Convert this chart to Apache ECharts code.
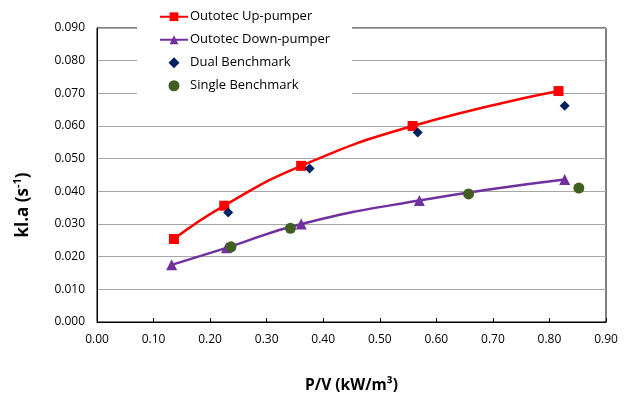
<!DOCTYPE html>
<html><head><meta charset="utf-8">
<script src="https://cdn.jsdelivr.net/npm/echarts@6/dist/echarts.min.js"></script>
<style>html,body{margin:0;padding:0;background:#fff}#c{width:627px;height:394px}</style>
</head><body><div id="c"></div>
<script>
const upPumperX = [0.136, 0.225, 0.361, 0.558, 0.816];
const upPumperY = [0.0254, 0.0356, 0.0478, 0.0600, 0.0707];
const downPumperX = [0.132, 0.229, 0.361, 0.570, 0.827];
const downPumperY = [0.0175, 0.0227, 0.0300, 0.0372, 0.0436];
const dualX = [0.232, 0.376, 0.567, 0.827];
const dualY = [0.0335, 0.0470, 0.0580, 0.0662];
const singleX = [0.237, 0.342, 0.657, 0.852];
const singleY = [0.0230, 0.0287, 0.0392, 0.0410];
const seriesNames = ['Outotec Up-pumper','Outotec Down-pumper','Dual Benchmark','Single Benchmark'];
const zip = (a,b) => a.map((v,i)=>[v,b[i]]);
const font = '"Open Sans", "Liberation Sans", sans-serif';
const chart = echarts.init(document.getElementById('c'));
chart.setOption({
  animation:false,
  textStyle:{fontFamily:font},
  grid:{left:97,right:21,top:28,bottom:72,show:true,borderColor:'#000',borderWidth:1,backgroundColor:'transparent',
        containLabel:false,outerBoundsMode:'none'},
  legend:{
    orient:'vertical', left:137, top:3, backgroundColor:'#fff', padding:[5,22,6,22],
    itemGap:5.5, itemWidth:28, itemHeight:11,
    textStyle:{fontFamily:font,fontSize:13,color:'#000',lineHeight:17.5,padding:[0,0,0,-3]},
    data:[
      {name:seriesNames[0]},
      {name:seriesNames[1]},
      {name:seriesNames[2],icon:'path://M5,0L10,5L5,10L0,5Z'},
      {name:seriesNames[3]}
    ]
  },
  graphic:[{
    type:'text', x:23, y:205, rotation:Math.PI/2,
    style:{text:'{b|kl.a (s}{sup|-1}{b|)}',align:'center',verticalAlign:'middle',
      rich:{b:{fontFamily:font,fontSize:17,fontWeight:'bold',fill:'#000'},
            sup:{fontFamily:font,fontSize:11,fontWeight:'bold',fill:'#000',verticalAlign:'bottom',padding:[0,0,10,0]}}}
  }],
  xAxis:{type:'value',min:0,max:0.9,interval:0.1,
    name:'P/V (kW/m³)',nameLocation:'middle',nameGap:56,
    nameTextStyle:{fontFamily:font,fontSize:15.5,fontWeight:'bold',color:'#000'},
    axisLine:{show:true,lineStyle:{color:'#000'}},
    axisTick:{show:true,inside:true,length:4,lineStyle:{color:'#000'}},
    axisLabel:{formatter:v=>v.toFixed(2),color:'#000',fontSize:12,margin:12,fontFamily:font},
    splitLine:{show:false}},
  yAxis:{type:'value',min:0,max:0.09,interval:0.01,
    axisLine:{show:true,lineStyle:{color:'#000'}},
    axisTick:{show:false},
    axisLabel:{formatter:v=>v.toFixed(3),color:'#000',fontSize:12,margin:12,fontFamily:font},
    splitLine:{show:true,lineStyle:{color:'#a6a6a6',width:1}}},
  series:[
    {name:seriesNames[0],type:'line',smooth:0.5,data:zip(upPumperX,upPumperY),symbol:'rect',symbolSize:10,
     lineStyle:{color:'#ff0000',width:2.5},itemStyle:{color:'#ff0000'},z:3},
    {name:seriesNames[1],type:'line',smooth:0.5,data:zip(downPumperX,downPumperY),symbol:'triangle',symbolSize:11,
     lineStyle:{color:'#7030a0',width:2.5},itemStyle:{color:'#7030a0'},z:3},
    {name:seriesNames[2],type:'scatter',data:zip(dualX,dualY),symbol:'diamond',symbolSize:10,
     itemStyle:{color:'#002060',opacity:1},z:4},
    {name:seriesNames[3],type:'scatter',data:zip(singleX,singleY),symbol:'circle',symbolSize:11,
     itemStyle:{color:'#3f6020',opacity:1},z:4}
  ]
});
</script></body></html>
